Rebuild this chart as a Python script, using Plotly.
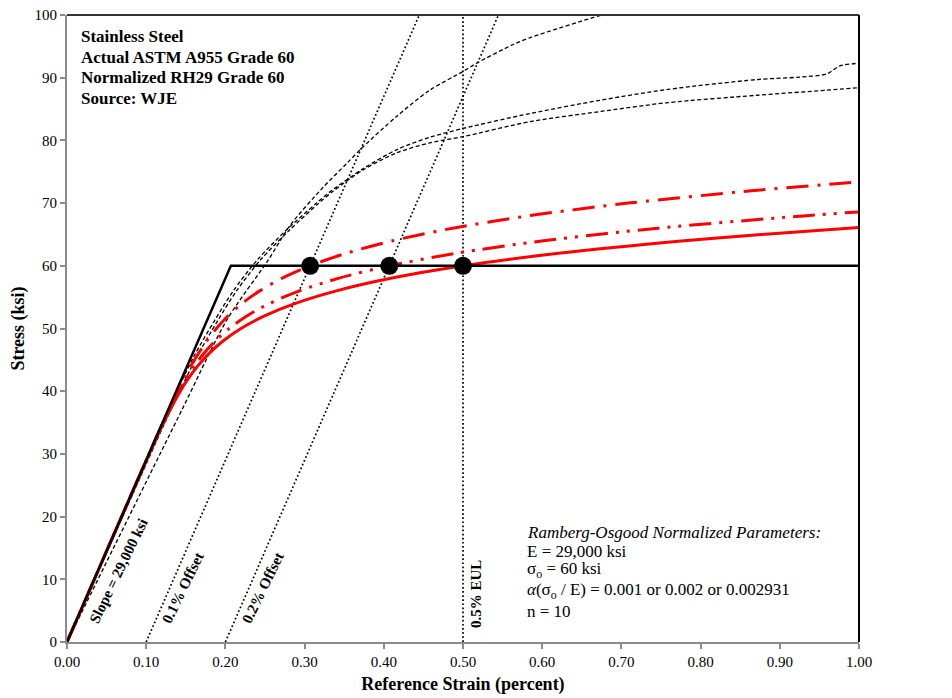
import plotly.graph_objects as go

# ---------------- data ----------------
# Ramberg-Osgood normalized curves (strain in percent, stress in ksi)
ro_a001_strain = [0, 0.0345, 0.0690, 0.1036, 0.1211, 0.1397, 0.1562, 0.1763, 0.1886, 0.2032, 0.2211, 0.2433, 0.2712, 0.3069, 0.3526, 0.4112, 0.4870, 0.5841, 0.7086, 0.8675, 0.9626, 1.0]
ro_a001_stress = [0, 10, 20, 30, 35, 40, 44, 48, 50, 52, 54, 56, 58, 60, 62, 64, 66, 68, 70, 72, 73, 73.37]

ro_a002_strain = [0, 0.0345, 0.0690, 0.1037, 0.1216, 0.1414, 0.1607, 0.1727, 0.1870, 0.2047, 0.2271, 0.2559, 0.2934, 0.3425, 0.4069, 0.4914, 0.6018, 0.7463, 0.9337, 1.0]
ro_a002_stress = [0, 10, 20, 30, 35, 40, 44, 46, 48, 50, 52, 54, 56, 58, 60, 62, 64, 66, 68, 68.6]

ro_a2931_strain = [0, 0.0345, 0.0690, 0.1038, 0.1220, 0.1430, 0.1531, 0.1649, 0.1792, 0.1970, 0.2197, 0.2494, 0.2884, 0.3401, 0.4088, 0.5000, 0.6206, 0.7792, 0.8765, 1.0]
ro_a2931_stress = [0, 10, 20, 30, 35, 40, 42, 44, 46, 48, 50, 52, 54, 56, 58, 60, 62, 64, 65, 66.1]

# Actual ASTM A955 Grade 60 test curves (black dashed)
test1_strain = [0, 0.145, 0.202, 0.254, 0.282, 0.324, 0.353, 0.374, 0.416, 0.458, 0.500, 0.517, 0.5635, 0.585, 0.675, 0.72]
test1_stress = [0, 37.0, 51.4, 60.9, 66.5, 72.6, 76.3, 79.0, 83.8, 88.0, 91.0, 92.3, 95.3, 96.4, 100.0, 101.5]

test2_strain = [0, 0.128, 0.160, 0.187, 0.210, 0.240, 0.277, 0.315, 0.332, 0.374, 0.416, 0.458, 0.500, 0.585, 0.673, 0.757, 0.871, 0.925, 0.959, 0.976, 1.0]
test2_stress = [0, 37.0, 45.5, 51.4, 56.0, 60.9, 65.7, 70.0, 71.8, 75.5, 78.5, 80.5, 81.9, 84.3, 86.4, 88.1, 89.7, 90.1, 90.6, 91.9, 92.3]

test3_strain = [0, 0.131, 0.164, 0.191, 0.214, 0.244, 0.281, 0.318, 0.335, 0.374, 0.416, 0.458, 0.500, 0.585, 0.673, 0.757, 0.871, 0.959, 1.0]
test3_stress = [0, 37.0, 45.5, 51.4, 56.0, 60.9, 65.7, 70.0, 71.8, 75.3, 78.0, 79.6, 80.6, 83.0, 84.6, 86.0, 87.2, 88.0, 88.4]

# GR60 code bilinear curve
gr60_strain = [0, 0.2069, 1.0]
gr60_stress = [0, 60, 60]

# offset / EUL reference lines
offset01_strain = [0.10, 0.4448]
offset02_strain = [0.20, 0.5448]
offset_stress = [0, 100]
eul_strain = [0.50, 0.50]
eul_stress = [0, 100]

# yield points at 60 ksi
yield_strain = [0.307, 0.407, 0.500]
yield_stress = [60, 60, 60]

x_ticks = [0, 0.1, 0.2, 0.3, 0.4, 0.5, 0.6, 0.7, 0.8, 0.9, 1.0]
y_ticks = [0, 10, 20, 30, 40, 50, 60, 70, 80, 90, 100]

FONT = "Liberation Serif, Times New Roman, serif"

fig = go.Figure()

for sx, sy in [(test1_strain, test1_stress), (test2_strain, test2_stress), (test3_strain, test3_stress)]:
    fig.add_trace(go.Scatter(x=sx, y=sy, mode="lines",
                             line=dict(color="black", width=1.3, dash="4px,2.5px", shape="spline", smoothing=0.8),
                             hoverinfo="skip", showlegend=False))

for sx, sy in [(offset01_strain, offset_stress), (offset02_strain, offset_stress), (eul_strain, eul_stress)]:
    fig.add_trace(go.Scatter(x=sx, y=sy, mode="lines",
                             line=dict(color="black", width=1.7, dash="1.7px,2.4px"),
                             hoverinfo="skip", showlegend=False))

fig.add_trace(go.Scatter(x=ro_a2931_strain, y=ro_a2931_stress, mode="lines",
                         line=dict(color="#ff0000", width=3, shape="spline", smoothing=0.8),
                         hoverinfo="skip", showlegend=False))
fig.add_trace(go.Scatter(x=ro_a002_strain, y=ro_a002_stress, mode="lines",
                         line=dict(color="#ff0000", width=3, shape="spline", smoothing=0.8,
                                   dash="22px,8px,3px,8px,3px,8px"),
                         hoverinfo="skip", showlegend=False))
fig.add_trace(go.Scatter(x=ro_a001_strain, y=ro_a001_stress, mode="lines",
                         line=dict(color="#ff0000", width=3, shape="spline", smoothing=0.8,
                                   dash="22px,9px,3px,9px"),
                         hoverinfo="skip", showlegend=False))

fig.add_trace(go.Scatter(x=gr60_strain, y=gr60_stress, mode="lines",
                         line=dict(color="black", width=2.5),
                         hoverinfo="skip", showlegend=False))

fig.add_trace(go.Scatter(x=yield_strain, y=yield_stress, mode="markers",
                         marker=dict(color="black", size=18),
                         hoverinfo="skip", showlegend=False))

# frame: top & right borders
fig.add_shape(type="line", xref="x domain", yref="y domain", x0=0, x1=1, y0=1, y1=1,
              line=dict(color="#333333", width=2))
fig.add_shape(type="line", xref="x domain", yref="y domain", x0=1, x1=1, y0=0, y1=1,
              line=dict(color="black", width=2))

ann = []
for txt, yv in [("Stainless Steel", 96.65), ("Actual ASTM A955 Grade 60", 93.30),
                ("Normalized RH29 Grade 60", 90.11), ("Source: WJE", 86.76)]:
    ann.append(dict(x=0.0152, y=yv, xref="x", yref="y", text="<b>%s</b>" % txt, showarrow=False,
                    xanchor="left", yanchor="middle", font=dict(size=17, color="black", family=FONT)))

for txt, yv in [("<i>Ramberg-Osgood Normalized Parameters:</i>", 17.54),
                ("E = 29,000 ksi", 14.51),
                ("σ<sub>o</sub> = 60 ksi", 11.48),
                ("<i>α</i>(σ<sub>o</sub> / E) = 0.001 or 0.002 or 0.002931", 8.13),
                ("n = 10", 4.94)]:
    ann.append(dict(x=0.578, y=yv, xref="x", yref="y", text=txt, showarrow=False,
                    xanchor="left", yanchor="middle", font=dict(size=17, color="black", family=FONT)))

ann.append(dict(x=1.014, y=59.3, xref="x", yref="y", text="<b>GR60 Code</b>", showarrow=False,
                xanchor="left", yanchor="middle", font=dict(size=16, color="black", family=FONT)))

for txt, xv, yv, ang in [("Slope = 29,000 ksi", 0.0648, 11.36, -64),
                         ("0.1% Offset", 0.1458, 8.69, -64),
                         ("0.2% Offset", 0.2468, 8.69, -64),
                         ("0.5% EUL", 0.5164, 7.65, -90)]:
    ann.append(dict(x=xv, y=yv, xref="x", yref="y", text="<b>%s</b>" % txt, showarrow=False,
                    textangle=ang, xanchor="center", yanchor="middle",
                    font=dict(size=15, color="black", family=FONT)))

fig.update_layout(
    width=952, height=698,
    margin=dict(l=59, r=101, t=7, b=64, autoexpand=False),
    paper_bgcolor="white", plot_bgcolor="white",
    font=dict(family=FONT, color="black", size=15),
    annotations=ann,
    xaxis=dict(range=[0, 1], tickvals=x_ticks, tickformat=".2f", showgrid=False, zeroline=False,
               showline=True, linecolor="#8c8c8c", linewidth=2, ticks="outside", ticklen=5,
               tickcolor="#8c8c8c", tickwidth=1.5, tickfont=dict(size=15, family=FONT),
               ticklabeloverflow="allow", automargin=False,
               title=dict(text="<b>Reference Strain (percent)</b>", font=dict(size=18, family=FONT), standoff=8)),
    yaxis=dict(range=[0, 100], tickvals=y_ticks, showgrid=False, zeroline=False,
               showline=True, linecolor="#8c8c8c", linewidth=2, ticks="outside", ticklen=5,
               tickcolor="#8c8c8c", tickwidth=1.5, tickfont=dict(size=15, family=FONT),
               ticklabeloverflow="allow", automargin=False,
               title=dict(text="<b>Stress (ksi)</b>", font=dict(size=18, family=FONT), standoff=10)),
)

fig.write_html("out.html")
